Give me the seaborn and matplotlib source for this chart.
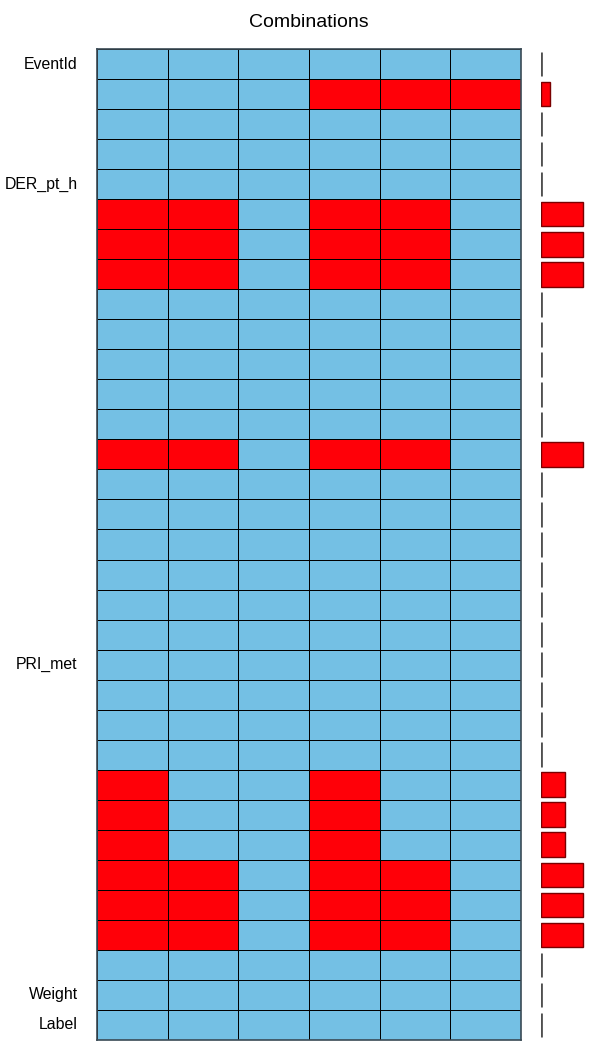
#!/usr/bin/env python3

import matplotlib
matplotlib.use('Agg')
import matplotlib.pyplot as plt
from matplotlib.colors import ListedColormap
import seaborn as sns
import pandas as pd


VARIABLES = ['EventId', 'DER_mass_MMC', 'DER_mass_transverse_met_lep', 'DER_mass_vis',
             'DER_pt_h', 'DER_deltaeta_jet_jet', 'DER_mass_jet_jet', 'DER_prodeta_jet_jet',
             'DER_deltar_tau_lep', 'DER_pt_tot', 'DER_sum_pt', 'DER_pt_ratio_lep_tau',
             'DER_met_phi_centrality', 'DER_lep_eta_centrality', 'PRI_tau_pt', 'PRI_tau_eta',
             'PRI_tau_phi', 'PRI_lep_pt', 'PRI_lep_eta', 'PRI_lep_phi', 'PRI_met',
             'PRI_met_phi', 'PRI_met_sumet', 'PRI_jet_num', 'PRI_jet_leading_pt',
             'PRI_jet_leading_eta', 'PRI_jet_leading_phi', 'PRI_jet_subleading_pt',
             'PRI_jet_subleading_eta', 'PRI_jet_subleading_phi', 'PRI_jet_all_pt',
             'Weight', 'Label']
SHOWN_LABELS = ['EventId', 'DER_pt_h', 'PRI_met', 'Weight', 'Label']

# missing variables in each of the 6 combinations
JET_MISSING = ['DER_deltaeta_jet_jet', 'DER_mass_jet_jet', 'DER_prodeta_jet_jet',
               'DER_lep_eta_centrality', 'PRI_jet_subleading_pt',
               'PRI_jet_subleading_eta', 'PRI_jet_subleading_phi']
LEAD_MISSING = ['PRI_jet_leading_pt', 'PRI_jet_leading_eta', 'PRI_jet_leading_phi']
COMBINATIONS = [
    JET_MISSING + LEAD_MISSING,
    JET_MISSING,
    [],
    ['DER_mass_MMC'] + JET_MISSING + LEAD_MISSING,
    ['DER_mass_MMC'] + JET_MISSING,
    ['DER_mass_MMC'],
]
MISSING_COUNTS = {'DER_mass_MMC': 38114, 'DER_deltaeta_jet_jet': 177457,
                  'DER_mass_jet_jet': 177457, 'DER_prodeta_jet_jet': 177457,
                  'DER_lep_eta_centrality': 177457, 'PRI_jet_leading_pt': 99913,
                  'PRI_jet_leading_eta': 99913, 'PRI_jet_leading_phi': 99913,
                  'PRI_jet_subleading_pt': 177457, 'PRI_jet_subleading_eta': 177457,
                  'PRI_jet_subleading_phi': 177457}
N_ROWS = 250000

BLUE = '#74c0e4'
RED = '#ff0008'


def main():
    matrix = pd.DataFrame({i: [1 if v in combo else 0 for v in VARIABLES]
                           for i, combo in enumerate(COMBINATIONS)}, index=VARIABLES)
    counts = pd.DataFrame({'variable': VARIABLES,
                           'missing': [MISSING_COUNTS.get(v, 0) for v in VARIABLES]})

    sns.set_style('white')
    plt.rcParams['font.family'] = ['Liberation Sans', 'DejaVu Sans']

    fig = plt.figure(figsize=(6.15, 10.61), dpi=100)
    ax = fig.add_axes([97 / 615, 21 / 1061, 424 / 615, 991 / 1061])
    bax = fig.add_axes([541 / 615, 21 / 1061, 59 / 615, 991 / 1061])

    sns.heatmap(matrix, ax=ax, cmap=ListedColormap([BLUE, RED]), vmin=0, vmax=1,
                cbar=False, linewidths=0.7, linecolor='black',
                yticklabels=[v if v in SHOWN_LABELS else '' for v in VARIABLES],
                xticklabels=False)
    for s in ax.spines.values():
        s.set_visible(True)
        s.set_color('#3a4a55')
        s.set_linewidth(1.2)
    ax.tick_params(length=0, pad=14, labelsize=11.4, labelcolor='black')
    ax.set_xlabel('')
    ax.set_ylabel('')
    ax.set_title('Combinations', fontsize=14, pad=16, color='black')

    sns.barplot(data=counts, y='variable', x='missing', orient='h', color=RED,
                saturation=1, width=0.82, ax=bax)
    for p, val in zip(bax.patches, counts['missing']):
        p.set_edgecolor('#7a0000' if val > 0 else '#505050')
        p.set_linewidth(1.0 if val > 0 else 2.0)
    bax.set_xlim(0, N_ROWS)
    bax.set_ylim(len(VARIABLES) - 0.5, -0.5)
    bax.axis('off')

    fig.savefig('out.png', dpi=100)


if __name__ == '__main__':
    main()
